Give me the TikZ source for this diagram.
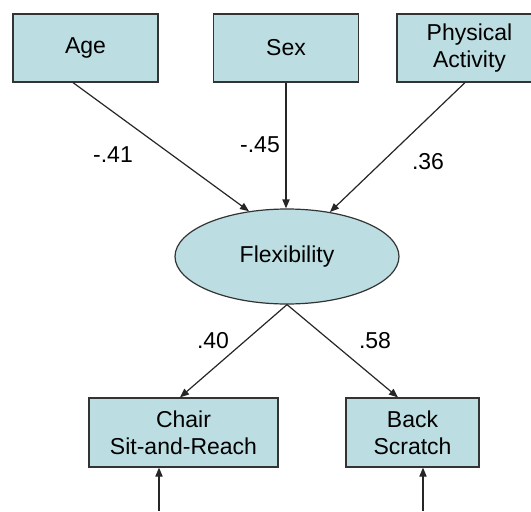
\documentclass[tikz,border=0pt]{standalone}
\usepackage{fontspec}
\setmainfont{Liberation Sans}
\usetikzlibrary{arrows.meta,calc,shapes.geometric}
\definecolor{boxfill}{RGB}{188,221,225}
\tikzset{
    >={Triangle[length=4.5pt,width=3.6pt]},
    box/.style={rectangle,draw=black!80,fill=boxfill,line width=0.6pt,inner sep=0pt,align=center,font=\fontsize{11.5}{13.7}\selectfont},
    latent/.style={ellipse,draw=black!80,fill=boxfill,line width=0.6pt,inner sep=0pt,minimum width=112pt,minimum height=47.5pt,font=\fontsize{11.5}{13.7}\selectfont},
    link/.style={->,line width=0.6pt,draw=black!85},
    coef/.style={font=\fontsize{11.5}{13.7}\selectfont}
}

\begin{document}
\begin{tikzpicture}[x=0.5pt,y=0.5pt]
  \useasboundingbox (0,0) rectangle (531,511);

  \node[box,minimum width=72.5pt,minimum height=34pt] (age) at (85.5,463) {Age};
  \node[box,minimum width=72.5pt,minimum height=34pt] (sex) at (286,463) {Sex};
  \node[box,minimum width=72.5pt,minimum height=34pt] (pa)  at (469.5,463) {Physical\\Activity};

  \node[latent] (flex) at (287,254.5) {Flexibility};

  \node[box,minimum width=94.5pt,minimum height=34.5pt] (chair) at (183.5,78.5) {Chair\\Sit-and-Reach};
  \node[box,minimum width=66.5pt,minimum height=34.5pt] (back)  at (412.5,78.5) {Back\\Scratch};

  \coordinate (echair) at (159,0);
  \coordinate (eback)  at (423,0);

  \draw[link] ($(age.south)+(-12.5,0)$) -- (flex.130);
  \draw[link] (sex.south) -- (sex.south |- flex.north);
  \draw[link] ($(pa.south)+(-4.5,0)$) -- (flex.46);
  \draw[link] (flex.south) -- ($(chair.north)+(-3.5,0)$);
  \draw[link] (flex.south) -- ($(back.north)+(-14.5,0)$);
  \draw[link] (echair) -- (echair |- chair.south);
  \draw[link] (eback) -- (eback |- back.south);

  \node[coef] at (113,356) {-.41};
  \node[coef] at (260,366) {-.45};
  \node[coef] at (428,349) {.36};
  \node[coef] at (213,170) {.40};
  \node[coef] at (375,170) {.58};
\end{tikzpicture}
\end{document}
